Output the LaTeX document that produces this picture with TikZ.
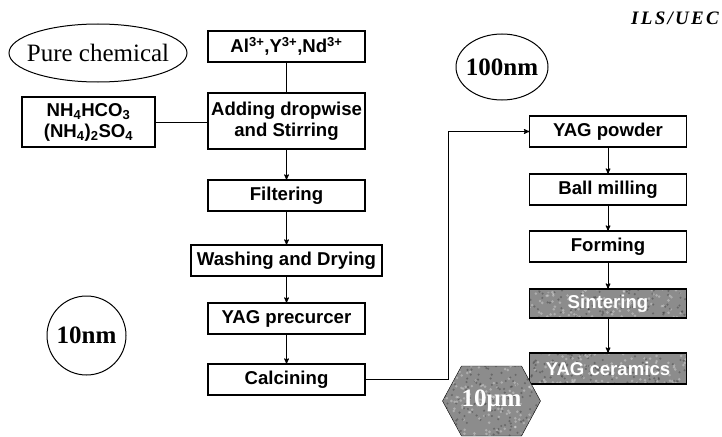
\documentclass[tikz,border=0pt]{standalone}
\usepackage{fontspec}
\setmainfont{Liberation Serif}
\setsansfont{Liberation Sans}
\newfontfamily\labfont[LetterSpace=12]{Liberation Serif}
\usetikzlibrary{arrows,positioning,shapes.geometric,shapes.symbols}

\begin{document}
\begin{tikzpicture}[x=1pt,y=-1pt,>=stealth',node distance=31pt,
  box/.style={draw,line width=1.2pt,outer sep=0pt,minimum width=157pt,minimum height=31pt,inner sep=2pt,align=center,
    font=\sffamily\bfseries\fontsize{18.6}{21}\selectfont},
  grain/.style={fill=black!45,path picture={
    \foreach \k in {1,...,260}{
      \fill[white,opacity=.3] ([shift={({rnd*170pt},{rnd*80pt})}]path picture bounding box.south west) circle (1.4pt);
      \fill[black,opacity=.25] ([shift={({rnd*170pt},{rnd*80pt})}]path picture bounding box.south west) circle (1.2pt);}}},
  dark/.style={box,grain,text=white},
  tag/.style={font=\bfseries\fontsize{25}{28}\selectfont},
  link/.style={line width=1pt}]
\pgfmathsetseed{7}
\useasboundingbox (0,0) rectangle (722,436);
% precipitation route
\node[box] (ions) at (286.5,46.5) {Al\textsuperscript{3+},Y\textsuperscript{3+},Nd\textsuperscript{3+}};
\node[box,minimum height=56pt,below=of ions] (adding) {Adding dropwise\\and Stirring};
\node[box,minimum width=133pt,minimum height=50pt] (salts) at (88.5,122) {NH\textsubscript{4}HCO\textsubscript{3}\\(NH\textsubscript{4})\textsubscript{2}SO\textsubscript{4}};
\node[box,below=of adding] (filter) {Filtering};
\node[box,minimum width=191pt,below=34pt of filter] (wash) {Washing and Drying};
\node[box,below=27pt of wash] (prec) {YAG precurcer};
\node[box,below=30pt of prec] (calc) {Calcining};
% ceramic route
\node[box] (powder) at (608,131.5) {YAG powder};
\node[box,below=27pt of powder] (mill) {Ball milling};
\node[box,below=26pt of mill] (form) {Forming};
\node[dark,minimum height=29pt,below=27pt of form] (sinter) {Sintering};
\node[dark,below=35pt of sinter] (ceram) {YAG ceramics};
% size tags
\node[tag,font=\fontsize{25}{28}\selectfont] (pure) at (98,53) {Pure chemical};
\draw[line width=1pt] (pure.center) ellipse [x radius=89pt,y radius=29pt];
\node[tag] (big) at (502,67) {100nm};
\draw[line width=1pt] (big.center) ellipse [x radius=46pt,y radius=33pt];
\node[tag,draw,line width=1pt,circle,minimum size=79pt] (small) at (86.5,335.5) {10nm};
\node[tag,draw,grain,signal,signal to=east and west,signal pointer angle=123,text=white,
  inner xsep=0pt,minimum height=70pt] (grainsize) at (491.5,401) {10μm};
\node[font=\labfont\bfseries\itshape\fontsize{19}{21}\selectfont] (lab) at (675,18) {ILS/UEC};
% connections
\draw[link] (ions) -- (adding);
\draw[link] (salts.east) -- (salts.east -| adding.west);
\draw[link,->] (adding) -- (filter);
\draw[link,->] (filter) -- (wash);
\draw[link,->] (wash) -- (prec);
\draw[link,->] (prec) -- (calc);
\draw[link,->] (calc.east) -- ++(83,0) |- (powder.west);
\draw[link,->] (powder) -- (mill);
\draw[link,->] (mill) -- (form);
\draw[link,->] (form) -- (sinter);
\draw[link,->] (sinter) -- (ceram);
\end{tikzpicture}
\end{document}
